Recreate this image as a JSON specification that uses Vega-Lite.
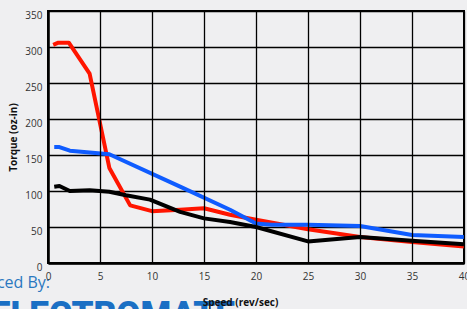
{
  "$schema": "https://vega.github.io/schema/vega-lite/v6.json",
  "autosize": {"type": "none"},
  "width": 416,
  "height": 252,
  "padding": {"left": 48, "top": 11, "right": 3, "bottom": 46},
  "background": "#efeff1",
  "config": {
    "view": {"stroke": "#000000", "strokeWidth": 2},
    "font": "Open Sans",
    "axis": {"labelOverlap": false}
  },
  "resolve": {"axis": {"x": "independent", "y": "independent"}},
  "datasets": {
    "curves": [
      {"series": "A", "speed": 0.5, "torque": 303},
      {"series": "A", "speed": 1, "torque": 306},
      {"series": "A", "speed": 2, "torque": 306},
      {"series": "A", "speed": 4, "torque": 263},
      {"series": "A", "speed": 5.9, "torque": 132},
      {"series": "A", "speed": 7.9, "torque": 80},
      {"series": "A", "speed": 10, "torque": 72},
      {"series": "A", "speed": 12.7, "torque": 74},
      {"series": "A", "speed": 15, "torque": 76},
      {"series": "A", "speed": 17.5, "torque": 67},
      {"series": "A", "speed": 20, "torque": 60},
      {"series": "A", "speed": 25, "torque": 47},
      {"series": "A", "speed": 30, "torque": 36},
      {"series": "A", "speed": 35, "torque": 29},
      {"series": "A", "speed": 40, "torque": 23},
      {"series": "B", "speed": 0.6, "torque": 161},
      {"series": "B", "speed": 1.1, "torque": 161},
      {"series": "B", "speed": 2.1, "torque": 156},
      {"series": "B", "speed": 5.9, "torque": 151},
      {"series": "B", "speed": 12.7, "torque": 106},
      {"series": "B", "speed": 17.5, "torque": 74},
      {"series": "B", "speed": 20, "torque": 55},
      {"series": "B", "speed": 21.5, "torque": 53},
      {"series": "B", "speed": 25, "torque": 53},
      {"series": "B", "speed": 30, "torque": 51.5},
      {"series": "B", "speed": 35, "torque": 39},
      {"series": "B", "speed": 40, "torque": 36},
      {"series": "C", "speed": 0.6, "torque": 106},
      {"series": "C", "speed": 1.1, "torque": 107},
      {"series": "C", "speed": 2.1, "torque": 100},
      {"series": "C", "speed": 4, "torque": 101},
      {"series": "C", "speed": 5.9, "torque": 99},
      {"series": "C", "speed": 7.5, "torque": 94},
      {"series": "C", "speed": 9.8, "torque": 88},
      {"series": "C", "speed": 12.7, "torque": 71},
      {"series": "C", "speed": 15, "torque": 62},
      {"series": "C", "speed": 17.5, "torque": 57},
      {"series": "C", "speed": 20, "torque": 50},
      {"series": "C", "speed": 25, "torque": 30},
      {"series": "C", "speed": 30, "torque": 36},
      {"series": "C", "speed": 35, "torque": 31},
      {"series": "C", "speed": 40, "torque": 26}
    ],
    "one": [{"k": 1}]
  },
  "layer": [
    {
      "data": {"name": "curves"},
      "mark": {"type": "line", "strokeWidth": 4, "strokeJoin": "round", "strokeCap": "butt"},
      "encoding": {
        "x": {
          "field": "speed", "type": "quantitative",
          "scale": {"domain": [0, 40], "nice": false, "zero": false},
          "axis": {
            "title": "Speed (rev/sec)", "titleFont": "Open Sans", "titleFontWeight": "bold", "titleFontSize": 10,
            "titleColor": "#111111", "titlePadding": 16, "titleX": 192, "zindex": 2,
            "values": [0, 5, 10, 15, 20, 25, 30, 35, 40],
            "grid": true, "gridColor": "#000000", "gridWidth": 1.3, "gridOpacity": 1,
            "domain": true, "domainColor": "#000000", "domainWidth": 2.5,
            "ticks": false, "labelPadding": 8, "labelFontSize": 10, "labelColor": "#333333",
            "labelFont": "Open Sans", "labelFlush": false, "labelOverlap": false
          }
        },
        "y": {
          "field": "torque", "type": "quantitative",
          "scale": {"domain": [0, 350], "nice": false},
          "axis": {
            "title": "Torque (oz-in)", "titleFont": "Open Sans", "titleFontWeight": "bold", "titleFontSize": 10,
            "titleColor": "#111111", "titlePadding": 6,
            "values": [0, 50, 100, 150, 200, 250, 300, 350],
            "grid": true, "gridColor": "#000000", "gridWidth": 1.3, "gridOpacity": 1,
            "domain": true, "domainColor": "#000000", "domainWidth": 2.5,
            "ticks": false, "labelPadding": 6, "labelFontSize": 10, "labelColor": "#333333",
            "labelFont": "Open Sans", "labelOffset": 4, "labelFlush": false, "labelOverlap": false
          }
        },
        "color": {
          "field": "series", "type": "nominal",
          "scale": {"domain": ["A", "B", "C"], "range": ["#ff1500", "#0f5cff", "#000000"]},
          "legend": null
        }
      }
    },
    {
      "data": {"name": "one"},
      "mark": {"type": "text", "align": "right", "baseline": "alphabetic", "fontSize": 16, "font": "Open Sans", "color": "#2a78c0", "clip": false},
      "encoding": {
        "x": {"datum": 0.2, "type": "quantitative", "axis": null},
        "y": {"datum": -34.7, "type": "quantitative", "axis": null},
        "text": {"value": "Produced By:"}
      }
    },
    {
      "data": {"name": "one"},
      "mark": {"type": "text", "align": "left", "baseline": "alphabetic", "fontSize": 35, "fontWeight": 900, "font": "Roboto", "color": "#1a6fc4", "clip": false},
      "encoding": {
        "x": {"datum": -5.5, "type": "quantitative", "axis": null},
        "y": {"datum": -87, "type": "quantitative", "axis": null},
        "text": {"value": "ELECTROMATE"}
      }
    }
  ]
}
